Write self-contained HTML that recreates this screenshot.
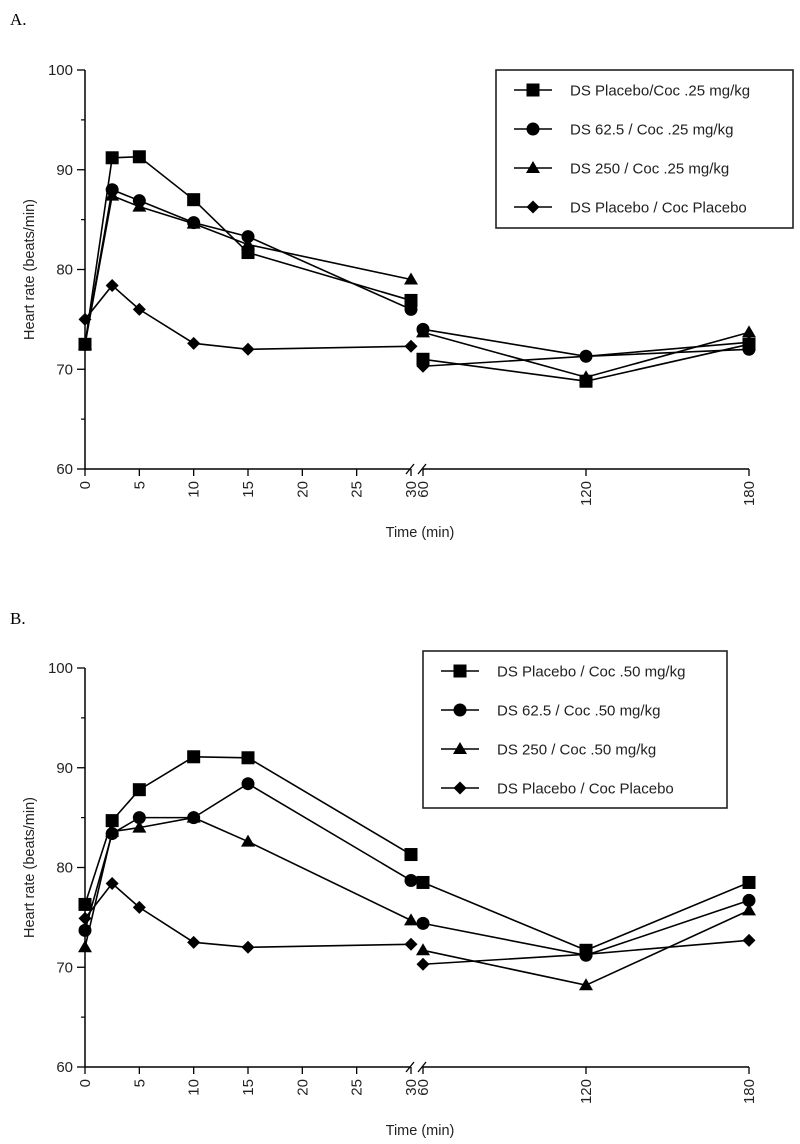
<!DOCTYPE html>
<html><head><meta charset="utf-8"><style>
body{margin:0;background:#fff;}
svg{display:block;font-family:"Liberation Sans",sans-serif;}
</style></head><body>
<svg id="chart" width="800" height="1144" viewBox="0 0 800 1144" xmlns="http://www.w3.org/2000/svg"></svg>
<script>
const timesLeft = [0, 2.5, 5, 10, 15, 30];
const timesRight = [60, 120, 180];
const allTimes = [0, 2.5, 5, 10, 15, 30, 60, 120, 180];
const xTicksLeft = [0, 5, 10, 15, 20, 25, 30];
const xTicksRight = [60, 120, 180];
const yTicks = [60, 70, 80, 90, 100];
const yMinorTicks = [65, 75, 85, 95];

const labelsA = ["DS Placebo/Coc .25 mg/kg", "DS 62.5 / Coc .25 mg/kg", "DS 250 / Coc .25 mg/kg", "DS Placebo / Coc Placebo"];
const squareA = [72.5, 91.2, 91.3, 87, 81.7, 76.9, 71, 68.8, 72.5];
const circleA = [72.5, 88, 86.9, 84.7, 83.3, 76, 74, 71.3, 72];
const triangleA = [72.5, 87.4, 86.3, 84.6, 82.5, 79, 73.7, 69.2, 73.7];
const diamondA = [75, 78.4, 76, 72.6, 72, 72.3, 70.3, 71.3, 72.7];

const labelsB = ["DS Placebo / Coc .50 mg/kg", "DS 62.5 / Coc .50 mg/kg", "DS 250 / Coc .50 mg/kg", "DS Placebo / Coc Placebo"];
const squareB = [76.3, 84.7, 87.8, 91.1, 91, 81.3, 78.5, 71.7, 78.5];
const circleB = [73.7, 83.4, 85, 85, 88.4, 78.7, 74.4, 71.2, 76.7];
const triangleB = [72, 83.6, 84, 85, 82.6, 74.7, 71.7, 68.2, 75.7];
const diamondB = [74.9, 78.4, 76, 72.5, 72, 72.3, 70.3, 71.3, 72.7];

const NS = "http://www.w3.org/2000/svg";
const svg = document.getElementById("chart");
function mk(tag, attrs, parent){const e=document.createElementNS(NS,tag);for(const k in attrs)e.setAttribute(k,attrs[k]);(parent||svg).appendChild(e);return e;}

function xScale(t){ return t<=30 ? 85 + t*(326/30) : 423 + (t-60)*(326/120); }

function marker(g, shape, x, y){
  let e;
  if(shape==="square"){e=mk("rect",{x:x-6.5,y:y-6.5,width:13,height:13,fill:"#000"},g);}
  else if(shape==="circle"){e=mk("circle",{cx:x,cy:y,r:6.5,fill:"#000"},g);}
  else if(shape==="triangle"){e=mk("polygon",{points:`${x},${y-7} ${x+7},${y+5} ${x-7},${y+5}`,fill:"#000"},g);}
  else {e=mk("polygon",{points:`${x},${y-6.5} ${x+6.5},${y} ${x},${y+6.5} ${x-6.5},${y}`,fill:"#000"},g);}
  
  
}

function panel(id, letter, letterY, y100, y60, series, labels, legend){
  const g = mk("g",{});
  
  
  const yS = v => y60 - (v-60)*(y60-y100)/40;
  const L = mk("text",{x:10,y:letterY,"font-family":"Liberation Serif, serif","font-size":17},g);
  L.textContent = letter;
  
  
  const ya = mk("line",{x1:85,y1:y100,x2:85,y2:y60,stroke:"#000","stroke-width":1.5},g);
  
  
  const xa1 = mk("line",{x1:85,y1:y60,x2:411,y2:y60,stroke:"#000","stroke-width":1.5},g);
  
  
  const xa2 = mk("line",{x1:423,y1:y60,x2:749,y2:y60,stroke:"#000","stroke-width":1.5},g);
  
  
  const br = mk("path",{d:`M${406} ${y60+5} L${414} ${y60-5} M${418} ${y60+5} L${426} ${y60-5}`,stroke:"#000","stroke-width":1.3,fill:"none"},g);
  
  
  yTicks.forEach(v=>{
    mk("line",{x1:77,y1:yS(v),x2:85,y2:yS(v),stroke:"#000","stroke-width":1.3},g);
    const t = mk("text",{x:73,y:yS(v)+5,"text-anchor":"end","font-size":15,fill:"#222"},g);
    t.textContent = v;
    
    
  });
  yMinorTicks.forEach(v=>mk("line",{x1:81,y1:yS(v),x2:85,y2:yS(v),stroke:"#000","stroke-width":1.2},g));
  xTicksLeft.concat(xTicksRight).forEach(v=>{
    const x = xScale(v);
    mk("line",{x1:x,y1:y60,x2:x,y2:y60+7,stroke:"#000","stroke-width":1.3},g);
    const t = mk("text",{x:0,y:0,"text-anchor":"end","font-size":15,fill:"#222",transform:`translate(${x+5},${y60+12}) rotate(-90)`},g);
    t.textContent = v;
    
    
  });
  const yt = mk("text",{x:0,y:0,"text-anchor":"middle","font-size":14.5,fill:"#222",transform:`translate(34,${(y100+y60)/2}) rotate(-90)`},g);
  yt.textContent = "Heart rate (beats/min)";
  
  
  const xt = mk("text",{x:420,y:y60+68,"text-anchor":"middle","font-size":14.5,fill:"#222"},g);
  xt.textContent = "Time (min)";
  
  
  const shapes = ["square","circle","triangle","diamond"];
  series.forEach((vals,si)=>{
    const sg = mk("g",{},g);
    
    
    const n = timesLeft.length;
    const p1 = timesLeft.map((t,i)=>`${xScale(t)},${yS(vals[i])}`).join(" ");
    const p2 = timesRight.map((t,i)=>`${xScale(t)},${yS(vals[n+i])}`).join(" ");
    mk("polyline",{points:p1,fill:"none",stroke:"#000","stroke-width":1.6},sg);
    mk("polyline",{points:p2,fill:"none",stroke:"#000","stroke-width":1.6},sg);
    allTimes.forEach((t,i)=>marker(sg,shapes[si],xScale(t),yS(vals[i])));
  });
  const lg = mk("g",{},g);
  
  
  mk("rect",{x:legend.x,y:legend.y,width:legend.w,height:legend.h,fill:"#fff",stroke:"#222","stroke-width":1.6},lg);
  labels.forEach((lab,i)=>{
    const cy = legend.y+20+i*39;
    const lx = legend.x+18;
    mk("line",{x1:lx,y1:cy,x2:lx+38,y2:cy,stroke:"#000","stroke-width":1.6},lg);
    marker(lg,shapes[i],lx+19,cy);
    const t = mk("text",{x:lx+56,y:cy+5.5,"font-size":15,fill:"#222"},lg);
    t.textContent = lab;
    
    
  });
}
panel("a","A.",25,70,469,[squareA,circleA,triangleA,diamondA],labelsA,{x:496,y:70,w:297,h:158});
panel("b","B.",624,668,1067,[squareB,circleB,triangleB,diamondB],labelsB,{x:423,y:651,w:304,h:157});
</script>
</body></html>
